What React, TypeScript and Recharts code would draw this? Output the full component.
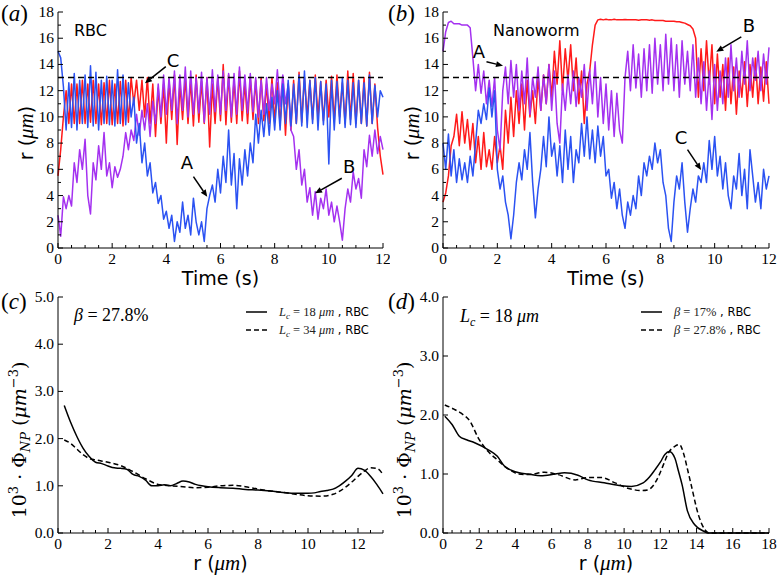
import React from 'react';
import { LineChart, Line, XAxis, YAxis, ReferenceLine, ReferenceDot } from 'recharts';

const SERIF = '"Liberation Serif", "DejaVu Serif", serif';
const SANS = '"DejaVu Sans", "Liberation Sans", sans-serif';
const RED = '#ff1a1a';
const PURPLE = '#a431f0';
const BLUE = '#2b52f2';

// samples in (a) and (b) are 0.1 s apart, t = 0 .. 12 s
const TIME_STEP = 0.1;

// (a) RBC: radial position r (um) of the three particles
const A_RED = [
  5.5, 7.5, 10.0, 12.0, 9.5, 12.5, 9.5, 12.5, 9.5, 12.8,
  9.5, 12.5, 9.6, 12.8, 9.5, 12.5, 9.4, 12.6, 9.5, 12.8,
  9.4, 12.5, 9.5, 12.7, 9.3, 12.8, 9.6, 13.0, 11.0, 12.8,
  10.5, 12.8, 10.0, 13.0, 9.5, 12.5, 8.5, 12.2, 9.5, 12.5,
  8.0, 12.8, 9.8, 13.2, 7.9, 12.5, 9.8, 13.0, 9.5, 12.8,
  9.3, 13.2, 9.6, 12.7, 9.5, 13.0, 7.7, 12.5, 9.5, 13.0,
  9.7, 14.0, 9.4, 13.2, 9.6, 12.8, 9.5, 13.5, 9.7, 12.6,
  9.5, 13.0, 9.8, 12.8, 9.5, 13.0, 9.7, 12.5, 9.5, 13.0,
  9.6, 12.6, 9.4, 12.7, 8.6, 12.5, 9.0, 12.8, 9.5, 13.4,
  9.6, 13.0, 10.0, 12.8, 9.8, 13.2, 10.0, 12.7, 9.7, 12.8,
  10.0, 13.1, 9.7, 13.2, 10.0, 12.6, 9.5, 13.5, 9.8, 13.3,
  9.5, 12.8, 9.5, 13.0, 9.3, 13.4, 9.5, 12.5, 9.2, 7.0,
  5.6,
];
const A_PURPLE = [
  2.5, 0.9, 3.9, 3.0, 4.0, 3.2, 6.5, 5.0, 7.5, 6.0,
  8.3, 4.0, 2.6, 6.5, 5.2, 7.8, 6.0, 8.8, 5.5, 6.5,
  4.6, 6.2, 5.4, 6.0, 7.0, 8.8, 7.5, 9.0, 8.2, 10.2,
  8.6, 10.5, 9.0, 11.0, 8.5, 11.2, 9.5, 12.5, 10.0, 13.2,
  10.2, 13.0, 10.5, 13.5, 9.5, 13.2, 10.5, 13.8, 10.0, 13.5,
  10.2, 13.0, 10.3, 13.4, 9.6, 13.0, 10.2, 13.6, 10.4, 13.2,
  10.2, 13.5, 10.5, 13.3, 10.0, 13.3, 10.2, 13.8, 10.5, 13.2,
  10.3, 13.3, 10.4, 13.0, 10.0, 12.8, 10.2, 13.0, 10.5, 12.5,
  11.0, 13.6, 10.8, 13.2, 11.0, 12.5, 9.0, 8.5, 6.0, 7.5,
  4.8, 6.0, 3.5, 4.6, 2.5, 4.3, 2.2, 3.8, 3.0, 4.5,
  2.5, 3.5, 2.0, 3.2, 2.0, 0.6, 3.0, 4.5, 3.5, 5.8,
  4.5, 5.3, 3.8, 7.5, 6.2, 8.6, 7.0, 9.0, 7.2, 8.5,
  7.5,
];
const A_BLUE = [
  15.0, 14.5, 12.3, 9.0, 12.6, 9.2, 13.3, 9.0, 12.8, 9.5,
  13.2, 9.2, 13.9, 9.3, 13.4, 9.0, 12.8, 9.5, 13.1, 9.4,
  12.8, 9.3, 13.6, 9.5, 13.2, 9.4, 12.6, 10.0, 11.5, 8.0,
  9.5, 6.5, 8.0, 5.5, 6.5, 4.2, 5.0, 3.4, 4.0, 2.2,
  2.8, 1.5, 2.5, 0.5, 2.0, 1.2, 3.5, 1.5, 2.5, 1.0,
  3.8, 2.0, 1.0, 2.0, 0.5, 3.0, 4.0, 4.8, 3.5, 6.0,
  4.2, 7.0, 5.0, 9.0, 4.8, 7.2, 3.0, 6.8, 4.8, 7.5,
  5.5, 8.0, 6.5, 10.2, 8.0, 10.5, 8.5, 11.0, 8.6, 11.5,
  9.0, 12.0, 9.0, 12.5, 9.5, 12.8, 9.3, 12.5, 9.5, 13.2,
  9.3, 13.5, 9.2, 12.8, 9.5, 13.0, 9.0, 12.7, 9.4, 12.5,
  6.4, 12.8, 9.0, 12.7, 9.5, 13.0, 9.2, 12.8, 9.4, 12.6,
  9.2, 12.8, 9.5, 12.6, 9.3, 13.2, 9.5, 12.4, 10.0, 12.0,
  11.5,
];

// (b) Nanoworm
const B_RED = [
  3.5, 4.2, 5.5, 7.8, 8.5, 10.2, 7.8, 10.4, 8.0, 9.8,
  7.5, 9.5, 6.5, 8.5, 6.0, 8.8, 6.2, 7.5, 6.0, 8.5,
  6.5, 7.8, 6.0, 10.5, 8.0, 11.5, 8.5, 12.0, 9.5, 12.5,
  9.0, 12.8, 10.0, 12.0, 9.5, 13.0, 10.5, 13.2, 11.0, 14.0,
  11.5, 15.0, 12.5, 15.8, 12.0, 15.2, 12.8, 15.5, 12.0, 14.5,
  11.0, 13.5, 9.5, 12.5, 13.5, 15.5, 17.0, 17.4, 17.45, 17.4,
  17.45, 17.4, 17.4, 17.45, 17.4, 17.4, 17.4, 17.42, 17.4, 17.4,
  17.4, 17.4, 17.38, 17.4, 17.4, 17.4, 17.38, 17.4, 17.35, 17.35,
  17.35, 17.35, 17.3, 17.3, 17.3, 17.3, 17.25, 17.25, 17.2, 17.15,
  17.05, 16.95, 16.7, 16.0, 11.5, 15.2, 12.0, 15.8, 12.5, 15.5,
  11.0, 14.8, 11.5, 14.0, 10.5, 14.5, 11.0, 13.8, 10.2, 13.5,
  11.5, 14.2, 10.8, 14.0, 11.5, 14.5, 11.0, 13.8, 11.2, 14.2,
  11.0,
];
const B_PURPLE = [
  15.0, 16.5, 17.2, 17.3, 17.1, 17.1, 17.1, 17.0, 17.0, 17.0,
  16.8, 14.5, 12.0, 14.0, 11.8, 13.5, 11.0, 12.8, 10.8, 13.0,
  9.0, 7.5, 12.0, 13.8, 11.0, 14.3, 11.5, 14.0, 10.5, 13.5,
  11.0, 14.5, 10.2, 13.0, 11.5, 13.8, 10.5, 13.2, 11.0, 14.0,
  10.5, 13.5, 9.5, 8.0, 12.5, 10.5, 13.2, 11.0, 13.5, 10.8,
  13.0, 11.5, 14.0, 10.5, 13.6, 11.0, 14.2, 10.0, 13.0, 9.5,
  12.5, 9.0, 12.0, 8.5, 11.8, 9.0, 8.0, 13.0, 15.0, 12.0,
  15.5, 12.2, 14.8, 11.5, 15.2, 12.0, 15.5, 11.8, 16.0, 12.5,
  15.5, 12.0, 16.3, 12.5, 16.0, 12.0, 15.5, 11.5, 15.8, 12.5,
  15.0, 12.0, 15.5, 11.5, 14.5, 11.0, 14.2, 10.5, 13.5, 9.8,
  14.0, 10.5, 13.5, 11.0, 14.5, 11.5, 15.5, 12.0, 14.5, 11.5,
  15.0, 12.5, 15.8, 12.0, 14.5, 12.8, 15.0, 12.0, 14.8, 12.5,
  15.3,
];
const B_BLUE = [
  8.0, 6.0, 8.7, 5.5, 7.5, 5.0, 6.8, 5.2, 6.5, 5.0,
  7.0, 5.5, 8.0, 10.5, 9.5, 11.0, 9.8, 12.2, 10.0, 12.0,
  6.0, 4.5, 5.5, 3.5, 2.5, 0.7, 2.5, 5.0, 6.5, 5.2,
  7.5, 6.0, 8.8, 5.0, 2.3, 4.5, 6.0, 8.5, 6.2, 10.0,
  7.0, 8.0, 5.5, 7.8, 5.0, 9.0, 6.0, 8.5, 5.0, 7.5,
  6.5, 9.5, 7.0, 10.0, 6.8, 9.0, 6.5, 9.3, 7.0, 8.5,
  5.5, 6.0, 3.8, 5.0, 3.0, 4.5, 2.5, 1.5, 3.5, 2.5,
  4.0, 3.0, 5.5, 4.0, 6.5, 5.5, 7.0, 6.0, 8.0, 6.5,
  7.5, 5.0, 4.0, 1.5, 0.5, 3.5, 5.5, 4.5, 6.5, 3.5,
  1.2, 3.0, 4.5, 3.5, 5.5, 5.0, 6.5, 5.0, 8.2, 6.0,
  8.5, 5.5, 7.0, 4.5, 6.5, 4.0, 3.0, 5.5, 4.5, 7.2,
  4.0, 6.0, 3.0, 7.5, 5.5, 3.5, 5.0, 3.0, 6.0, 4.5,
  5.5,
];

const THRESHOLD_R = 13;

const TIME_TICKS = [0, 0.5, 1, 1.5, 2, 2.5, 3, 3.5, 4, 4.5, 5, 5.5, 6, 6.5, 7, 7.5, 8, 8.5, 9, 9.5, 10, 10.5, 11, 11.5, 12];
const R_TICKS = [0, 1, 2, 3, 4, 5, 6, 7, 8, 9, 10, 11, 12, 13, 14, 15, 16, 17, 18];
const C_X_TICKS = [0, 0.5, 1, 1.5, 2, 2.5, 3, 3.5, 4, 4.5, 5, 5.5, 6, 6.5, 7, 7.5, 8, 8.5, 9, 9.5, 10, 10.5, 11, 11.5, 12, 12.5, 13];
const C_Y_TICKS = [0, 1, 2, 3, 4, 5];
const D_X_TICKS = [0, 0.5, 1, 1.5, 2, 2.5, 3, 3.5, 4, 4.5, 5, 5.5, 6, 6.5, 7, 7.5, 8, 8.5, 9, 9.5, 10, 10.5, 11, 11.5, 12, 12.5, 13, 13.5, 14, 14.5, 15, 15.5, 16, 16.5, 17, 17.5, 18];
const D_Y_TICKS = [0, 1, 2, 3, 4];

// (c) beta = 27.8 %, L_c = 18 um (solid) and 34 um (dashed)
const C_R_SOLID = [0.25, 0.5, 0.75, 1, 1.25, 1.5, 1.75, 2, 2.25, 2.5, 2.75, 3, 3.25, 3.5, 3.75, 4, 4.25, 4.5, 4.75, 5, 5.25, 5.5, 5.75, 6, 6.5, 7, 7.5, 8, 8.5, 9, 9.5, 10, 10.25, 10.5, 10.75, 11, 11.25, 11.5, 11.75, 12, 12.25, 12.5, 12.75, 13];
const C_PHI_SOLID = [2.7, 2.35, 2.05, 1.8, 1.62, 1.5, 1.47, 1.42, 1.38, 1.37, 1.35, 1.24, 1.2, 1.12, 1.0, 1.0, 1.02, 1.0, 1.05, 1.1, 1.08, 1.03, 1.0, 0.98, 0.96, 0.95, 0.92, 0.91, 0.89, 0.86, 0.84, 0.84, 0.85, 0.88, 0.9, 0.93, 1.0, 1.1, 1.22, 1.37, 1.33, 1.2, 1.03, 0.83];
const C_R_DASH = [0.25, 0.5, 0.75, 1, 1.25, 1.5, 2, 2.5, 3, 3.5, 4, 4.5, 5, 5.5, 6, 6.5, 7, 7.5, 8, 8.5, 9, 9.5, 10, 10.5, 11, 11.25, 11.5, 11.75, 12, 12.25, 12.5, 12.75, 13];
const C_PHI_DASH = [1.97, 1.9, 1.78, 1.66, 1.58, 1.55, 1.5, 1.43, 1.3, 1.15, 1.03, 1.0, 0.98, 0.96, 0.97, 1.0, 1.01, 0.98, 0.93, 0.89, 0.86, 0.82, 0.79, 0.78, 0.82, 0.88, 0.97, 1.08, 1.2, 1.31, 1.38, 1.37, 1.24];

// (d) L_c = 18 um, beta = 17 % (solid) and 27.8 % (dashed)
const D_R_SOLID = [0.1, 0.5, 0.9, 1.3, 1.75, 2.5, 3, 3.4, 3.8, 4.2, 4.7, 5.4, 6.2, 6.7, 7.45, 8, 8.9, 9.85, 10.4, 11.05, 11.4, 11.7, 12, 12.25, 12.5, 12.8, 13, 13.2, 13.5, 13.9, 14.4, 14.65, 15, 16, 17, 18];
const D_PHI_SOLID = [1.98, 1.84, 1.64, 1.58, 1.53, 1.41, 1.3, 1.13, 1.06, 1.02, 1.0, 0.97, 1.0, 1.02, 0.98, 0.9, 0.85, 0.8, 0.79, 0.85, 0.95, 1.07, 1.2, 1.33, 1.38, 1.27, 1.05, 0.82, 0.37, 0.14, 0.03, 0, 0, 0, 0, 0];
const D_R_DASH = [0.1, 0.6, 1, 1.5, 1.95, 2.5, 3, 3.4, 3.8, 4.15, 4.7, 5.6, 6.35, 7.3, 8, 8.75, 9.5, 10.2, 10.95, 11.3, 11.6, 11.9, 12.2, 12.4, 12.8, 13.05, 13.3, 13.5, 13.7, 14.1, 14.45, 14.7, 15, 16, 17, 18];
const D_PHI_DASH = [2.17, 2.1, 2.03, 1.89, 1.61, 1.38, 1.24, 1.13, 1.05, 1.0, 0.99, 1.03, 0.99, 0.9, 0.94, 0.94, 0.85, 0.76, 0.72, 0.73, 0.8, 0.96, 1.18, 1.33, 1.47, 1.5, 1.33, 1.08, 0.82, 0.31, 0.06, 0, 0, 0, 0, 0];

// arrow annotations: label position, arrow tail, arrow head (data coords)
const A_NOTES = [
  { text: 'C', label: [4.25, 14.3], from: [3.98, 13.83], to: [3.21, 12.56] },
  { text: 'A', label: [4.76, 6.5], from: [5.0, 5.44], to: [5.51, 3.91] },
  { text: 'B', label: [10.75, 6.25], from: [10.48, 5.32], to: [9.49, 4.17] },
];
const B_NOTES = [
  { text: 'A', label: [1.32, 14.95], from: [1.6, 14.2], to: [2.21, 13.9] },
  { text: 'B', label: [11.26, 17.0], from: [10.98, 16.1], to: [10.06, 14.97] },
  { text: 'C', label: [8.76, 8.4], from: [9.0, 7.5], to: [9.5, 5.95] },
];

const timeRows = (red: number[], purple: number[], blue: number[]) =>
  red.map((v, i) => ({ t: i * TIME_STEP, red: v, purple: purple[i], blue: blue[i] }));
const profile = (rs: number[], phis: number[]) => rs.map((r, i) => ({ r, phi: phis[i] }));

const xTick = (isMajor: (v: number) => boolean, fmt: (v: number) => string) => (p: any) => {
  const v = p.payload.value;
  const major = isMajor(v);
  return (
    <g>
      <line x1={p.x} x2={p.x} y1={p.y} y2={p.y - (major ? 5 : 3)} stroke="#000" />
      {major && (
        <text x={p.x} y={p.y + 16} textAnchor="middle" fontFamily={SERIF} fontSize={15.5} fill="#000">
          {fmt(v)}
        </text>
      )}
    </g>
  );
};
const yTick = (isMajor: (v: number) => boolean, fmt: (v: number) => string) => (p: any) => {
  const v = p.payload.value;
  const major = isMajor(v);
  return (
    <g>
      <line x1={p.x} x2={p.x + (major ? 5 : 3)} y1={p.y} y2={p.y} stroke="#000" />
      {major && (
        <text x={p.x - 4} y={p.y + 5} textAnchor="end" fontFamily={SERIF} fontSize={15.5} fill="#000">
          {fmt(v)}
        </text>
      )}
    </g>
  );
};
const even = (v: number) => v % 2 === 0;
const all = () => true;

const arrowShape = (p: any) => {
  const { x1, y1, x2, y2 } = p;
  const ang = Math.atan2(y2 - y1, x2 - x1);
  const bx = x2 - 7 * Math.cos(ang);
  const by = y2 - 7 * Math.sin(ang);
  const px = -Math.sin(ang) * 3;
  const py = Math.cos(ang) * 3;
  return (
    <g>
      <line x1={x1} y1={y1} x2={bx} y2={by} stroke="#000" strokeWidth={1.5} />
      <polygon points={`${x2},${y2} ${bx + px},${by + py} ${bx - px},${by - py}`} fill="#000" />
    </g>
  );
};

function Notes(notes: typeof A_NOTES) {
  return [
    ...notes.map((n) => (
      <ReferenceLine
        key={n.text + 'arrow'}
        segment={[{ x: n.from[0], y: n.from[1] }, { x: n.to[0], y: n.to[1] }]}
        shape={arrowShape}
        ifOverflow="visible"
      />
    )),
    ...notes.map((n) => (
      <ReferenceDot
        key={n.text + 'label'}
        x={n.label[0]}
        y={n.label[1]}
        r={0}
        ifOverflow="visible"
        shape={(p: any) => (
          <text x={p.cx} y={p.cy + 6.5} textAnchor="middle" fontFamily={SANS} fontSize={18} fill="#000">
            {n.text}
          </text>
        )}
      />
    )),
  ];
}

function TimePanel({ rows, notes, yAxisW, right }: any) {
  return (
    <LineChart width={390} height={290} data={rows} margin={{ top: 12, right, bottom: 0, left: 0 }}>
      <XAxis dataKey="t" type="number" domain={[0, 12]} ticks={TIME_TICKS} interval={0} height={42}
        tickSize={0} tickMargin={0} tickLine={false} axisLine={{ stroke: '#000' }} tick={xTick(even, String)} />
      <XAxis xAxisId="top" orientation="top" type="number" domain={[0, 12]} height={0} tick={false} tickLine={false} axisLine={{ stroke: '#000' }} />
      <YAxis type="number" domain={[0, 18]} ticks={R_TICKS} interval={0} width={yAxisW}
        tickSize={0} tickMargin={0} tickLine={false} axisLine={{ stroke: '#000' }} tick={yTick(even, String)} />
      <YAxis yAxisId="right" orientation="right" type="number" domain={[0, 18]} width={0} tick={false} tickLine={false} axisLine={{ stroke: '#000' }} />
      <Line dataKey="red" stroke={RED} strokeWidth={1.5} dot={false} strokeLinejoin="round" isAnimationActive={false} />
      <Line dataKey="purple" stroke={PURPLE} strokeWidth={1.5} dot={false} strokeLinejoin="round" isAnimationActive={false} />
      <Line dataKey="blue" stroke={BLUE} strokeWidth={1.5} dot={false} strokeLinejoin="round" isAnimationActive={false} />
      <ReferenceLine y={THRESHOLD_R} stroke="#000" strokeWidth={1.5} strokeDasharray="6 4" />
      {Notes(notes)}
    </LineChart>
  );
}

function ProfilePanel({ solid, dashed, xMax, xTicks, yMax, yTicks, xMajor, yAxisW, right }: any) {
  return (
    <LineChart width={390} height={290} margin={{ top: 12, right, bottom: 0, left: 0 }}>
      <XAxis dataKey="r" type="number" domain={[0, xMax]} ticks={xTicks} interval={0} height={42}
        tickSize={0} tickMargin={0} tickLine={false} axisLine={{ stroke: '#000' }} tick={xTick(xMajor, String)} />
      <XAxis xAxisId="top" orientation="top" type="number" domain={[0, xMax]} height={0} tick={false} tickLine={false} axisLine={{ stroke: '#000' }} />
      <YAxis type="number" domain={[0, yMax]} ticks={yTicks} interval={0} width={yAxisW}
        tickSize={0} tickMargin={0} tickLine={false} axisLine={{ stroke: '#000' }} tick={yTick(all, (v) => v.toFixed(1))} />
      <YAxis yAxisId="right" orientation="right" type="number" domain={[0, yMax]} width={0} tick={false} tickLine={false} axisLine={{ stroke: '#000' }} />
      <Line data={solid} dataKey="phi" type="monotoneX" stroke="#000" strokeWidth={1.5} dot={false} isAnimationActive={false} />
      <Line data={dashed} dataKey="phi" type="monotoneX" stroke="#000" strokeWidth={1.5} strokeDasharray="5 3" dot={false} isAnimationActive={false} />
    </LineChart>
  );
}

const PanelLabel = ({ x, y, letter }: any) => (
  <text x={x} y={y} fontFamily={SERIF} fontSize={23} fill="#000">
    (<tspan fontStyle="italic">{letter}</tspan>)
  </text>
);

const RUm = ({ x, y, rotate }: any) => (
  <text transform={`translate(${x},${y})${rotate ? ' rotate(-90)' : ''}`} textAnchor="middle" fill="#000">
    <tspan fontFamily={SANS} fontSize={19}>r (</tspan>
    <tspan fontFamily={SERIF} fontSize={21} fontStyle="italic">μm</tspan>
    <tspan fontFamily={SANS} fontSize={19}>)</tspan>
  </text>
);

const PhiTitle = ({ x, y }: any) => (
  <text transform={`translate(${x},${y}) rotate(-90)`} textAnchor="middle" fontFamily='"DejaVu Serif", serif'
    fontSize={19} fill="#000">
    10<tspan fontSize={13} dy={-8}>3</tspan>
    <tspan dy={8}> · Φ</tspan>
    <tspan fontSize={13} fontStyle="italic" dy={4}>NP</tspan>
    <tspan dy={-4}> (</tspan>
    <tspan fontStyle="italic">μm</tspan>
    <tspan fontSize={13} dy={-8}>−3</tspan>
    <tspan dy={8}>)</tspan>
  </text>
);

const LegendRow = ({ x, y, dashed, children }: any) => (
  <g>
    <line x1={x} x2={x + 21} y1={y} y2={y} stroke="#000" strokeWidth={1.5} strokeDasharray={dashed ? '5 3' : undefined} />
    <text x={x + 33} y={y + 4} fill="#222">{children}</text>
  </g>
);

const LegSerif = ({ children }: any) => (
  <tspan fontFamily={SERIF} fontSize={12.5} fontStyle="italic">{children}</tspan>
);
const LegSans = ({ children }: any) => (
  <tspan fontFamily={SANS} fontSize={11.5} fill="#000">{children}</tspan>
);

function Overlay() {
  return (
    <svg width={778} height={575} style={{ position: 'absolute', left: 0, top: 0, pointerEvents: 'none' }}>
      <PanelLabel x={1} y={21} letter="a" />
      <PanelLabel x={388} y={21} letter="b" />
      <PanelLabel x={1} y={309} letter="c" />
      <PanelLabel x={388} y={309} letter="d" />

      <RUm x={33} y={133} rotate />
      <RUm x={419} y={133} rotate />
      <text x={220.5} y={285} textAnchor="middle" fontFamily={SANS} fontSize={19} fill="#000">Time (s)</text>
      <text x={606} y={285} textAnchor="middle" fontFamily={SANS} fontSize={19} fill="#000">Time (s)</text>
      <RUm x={220.5} y={570} />
      <RUm x={606} y={570} />
      <PhiTitle x={26} y={440} />
      <PhiTitle x={411} y={440} />

      <text x={74} y={36} fontFamily={SANS} fontSize={16} fill="#000">RBC</text>
      <text x={493} y={36} fontFamily={SANS} fontSize={16} fill="#000">Nanoworm</text>

      <text x={74} y={321} fontFamily={SERIF} fontSize={18} fill="#000">
        <tspan fontStyle="italic">β</tspan> = 27.8%
      </text>
      <text x={460} y={322} fontFamily={SERIF} fontSize={18} fill="#000">
        <tspan fontStyle="italic">L</tspan>
        <tspan fontSize={12} fontStyle="italic" dy={4}>c</tspan>
        <tspan dy={-4}> = 18 </tspan>
        <tspan fontStyle="italic">μm</tspan>
      </text>

      <LegendRow x={246} y={312}>
        <LegSerif>L</LegSerif><tspan fontFamily={SERIF} fontSize={9} fontStyle="italic" dy={3}>c</tspan>
        <tspan fontFamily={SERIF} fontSize={12.5} dy={-3}> = 18 </tspan><LegSerif>μm</LegSerif>
        <LegSans> , RBC</LegSans>
      </LegendRow>
      <LegendRow x={246} y={330} dashed>
        <LegSerif>L</LegSerif><tspan fontFamily={SERIF} fontSize={9} fontStyle="italic" dy={3}>c</tspan>
        <tspan fontFamily={SERIF} fontSize={12.5} dy={-3}> = 34 </tspan><LegSerif>μm</LegSerif>
        <LegSans> , RBC</LegSans>
      </LegendRow>
      <LegendRow x={641} y={312}>
        <LegSerif>β</LegSerif><tspan fontFamily={SERIF} fontSize={12.5}> = 17%</tspan>
        <LegSans> , RBC</LegSans>
      </LegendRow>
      <LegendRow x={641} y={330} dashed>
        <LegSerif>β</LegSerif><tspan fontFamily={SERIF} fontSize={12.5}> = 27.8%</tspan>
        <LegSans> , RBC</LegSans>
      </LegendRow>
    </svg>
  );
}

export default function App() {
  return (
    <div style={{ position: 'absolute', left: 0, top: 0, width: 778, height: 575, background: '#fff', overflow: 'hidden' }}>
      <div style={{ position: 'absolute', left: 0, top: 0 }}>
        <TimePanel rows={timeRows(A_RED, A_PURPLE, A_BLUE)} notes={A_NOTES} yAxisW={58} right={7} />
      </div>
      <div style={{ position: 'absolute', left: 388, top: 0 }}>
        <TimePanel rows={timeRows(B_RED, B_PURPLE, B_BLUE)} notes={B_NOTES} yAxisW={55} right={9} />
      </div>
      <div style={{ position: 'absolute', left: 0, top: 285 }}>
        <ProfilePanel solid={profile(C_R_SOLID, C_PHI_SOLID)} dashed={profile(C_R_DASH, C_PHI_DASH)}
          xMax={13} xTicks={C_X_TICKS} yMax={5} yTicks={C_Y_TICKS} xMajor={(v: number) => v % 2 === 0}
          yAxisW={58} right={7} />
      </div>
      <div style={{ position: 'absolute', left: 388, top: 285 }}>
        <ProfilePanel solid={profile(D_R_SOLID, D_PHI_SOLID)} dashed={profile(D_R_DASH, D_PHI_DASH)}
          xMax={18} xTicks={D_X_TICKS} yMax={4} yTicks={D_Y_TICKS} xMajor={even}
          yAxisW={55} right={9} />
      </div>
      <Overlay />
    </div>
  );
}
